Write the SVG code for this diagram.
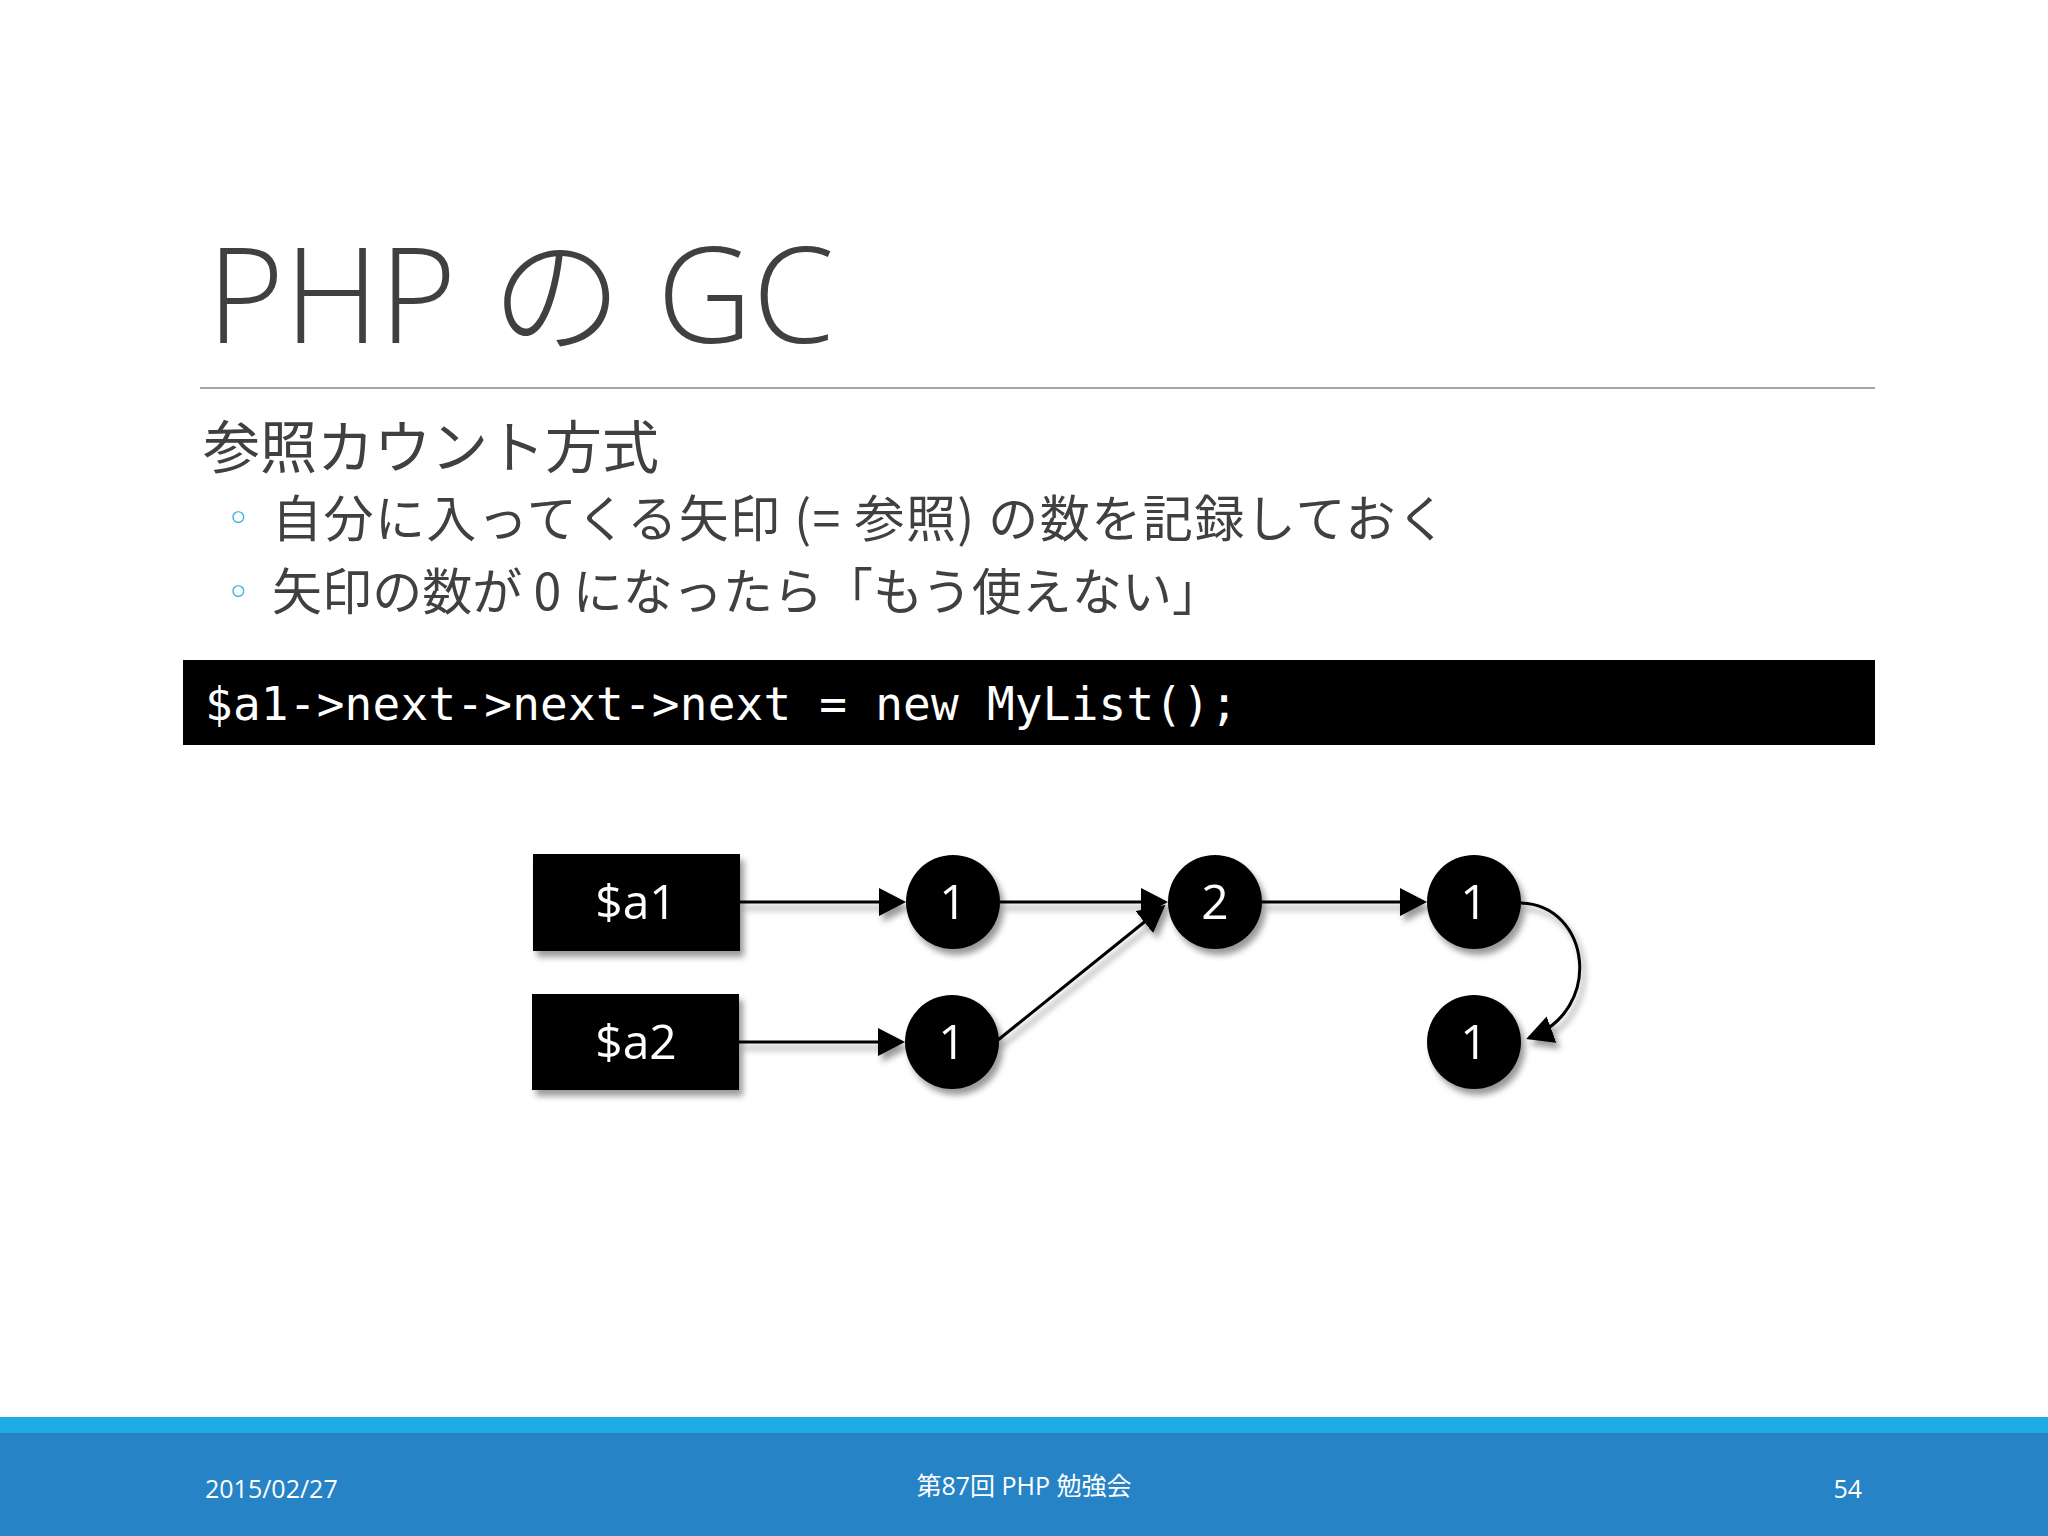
<svg xmlns="http://www.w3.org/2000/svg" width="2048" height="1536" viewBox="0 0 2048 1536">
<defs>
<style>
.ttl{font-family:"Open Sans","Noto Sans CJK JP",sans-serif;font-weight:300;font-size:132px;fill:#404040}
.jp{font-family:"Noto Sans CJK JP",sans-serif;fill:#404040}
.bul{font-family:"DejaVu Sans",sans-serif;font-size:40px;fill:#1cade4}
.code{font-family:"DejaVu Sans Mono",monospace;font-size:46px;fill:#ffffff}
.lbl{font-family:"Open Sans",sans-serif;font-size:48px;fill:#ffffff;text-anchor:middle}
.ft{font-family:"Open Sans","Noto Sans CJK JP",sans-serif;font-size:25px;fill:#ffffff}
.conn{fill:none;stroke:#000;stroke-width:3}
</style>
<filter id="sh" x="-30%" y="-30%" width="160%" height="160%">
<feDropShadow dx="4" dy="6" stdDeviation="3" flood-color="#000" flood-opacity="0.4"/>
</filter>
<marker id="ah" markerUnits="userSpaceOnUse" markerWidth="30" markerHeight="30" refX="24" refY="14" orient="auto">
<path d="M0,0 L27,14 L0,28 Z" fill="#000"/>
</marker>
</defs>
<rect width="2048" height="1536" fill="#ffffff"/>
<text class="ttl" x="207" y="343">PHP の GC</text>
<rect x="200" y="387" width="1675" height="2" fill="#a6a6a6"/>
<text class="jp" x="203" y="468" font-size="57">参照カウント方式</text>
<text class="bul" x="238" y="532" text-anchor="middle">◦</text>
<text class="jp" x="272" y="537" font-size="50" textLength="1175">自分に入ってくる矢印 (= 参照) の数を記録しておく</text>
<text class="bul" x="238" y="606" text-anchor="middle">◦</text>
<text class="jp" x="272" y="610" font-size="50" textLength="950">矢印の数が 0 になったら「もう使えない」</text>
<rect x="183" y="660" width="1692" height="85" fill="#000"/>
<text class="code" x="205" y="720" textLength="1033">$a1-&gt;next-&gt;next-&gt;next = new MyList();</text>
<g id="connectors" filter="url(#sh)">
<line class="conn" x1="740" y1="902" x2="903" y2="902" marker-end="url(#ah)"/>
<line class="conn" x1="739" y1="1042" x2="902" y2="1042" marker-end="url(#ah)"/>
<line class="conn" x1="1000" y1="902" x2="1165" y2="902" marker-end="url(#ah)"/>
<line class="conn" x1="1262" y1="902" x2="1424" y2="902" marker-end="url(#ah)"/>
<line class="conn" x1="998" y1="1040" x2="1163" y2="907" marker-end="url(#ah)"/>
<path class="conn" d="M1521,903 C1590,905 1605,1010 1529,1038" marker-end="url(#ah)"/>
</g>
<g id="a1" filter="url(#sh)"><rect x="533" y="854" width="207" height="97" fill="#000"/><text class="lbl" x="636" y="919">$a1</text></g>
<g id="a2" filter="url(#sh)"><rect x="532" y="994" width="207" height="96" fill="#000"/><text class="lbl" x="636" y="1059">$a2</text></g>
<g id="n1" filter="url(#sh)"><circle cx="953" cy="902" r="47" fill="#000"/><text class="lbl" x="953" y="919">1</text></g>
<g id="n2" filter="url(#sh)"><circle cx="1215" cy="902" r="47" fill="#000"/><text class="lbl" x="1215" y="919">2</text></g>
<g id="n3" filter="url(#sh)"><circle cx="1474" cy="902" r="47" fill="#000"/><text class="lbl" x="1474" y="919">1</text></g>
<g id="n4" filter="url(#sh)"><circle cx="952" cy="1042" r="47" fill="#000"/><text class="lbl" x="952" y="1059">1</text></g>
<g id="n5" filter="url(#sh)"><circle cx="1474" cy="1042" r="47" fill="#000"/><text class="lbl" x="1474" y="1059">1</text></g>
<rect x="0" y="1417" width="2048" height="16" fill="#1eade3"/>
<rect x="0" y="1433" width="2048" height="103" fill="#2683c6"/>
<text class="ft" x="205" y="1498">2015/02/27</text>
<text class="ft" x="1024" y="1495" text-anchor="middle">第87回 PHP 勉強会</text>
<text class="ft" x="1862" y="1498" text-anchor="end">54</text>
</svg>
